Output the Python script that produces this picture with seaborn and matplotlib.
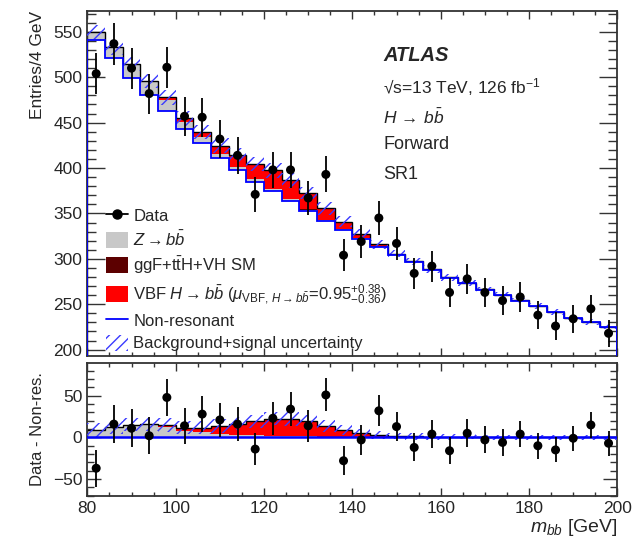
import numpy as np
import matplotlib
matplotlib.use('Agg')
import matplotlib.pyplot as plt
import seaborn as sns
from matplotlib.lines import Line2D
from matplotlib.patches import Patch
from matplotlib.ticker import MultipleLocator

sns.set_style('ticks')
plt.rcParams['font.family'] = ['Liberation Sans', 'DejaVu Sans']
plt.rcParams['mathtext.fontset'] = 'custom'
plt.rcParams['mathtext.rm'] = 'Liberation Sans'
plt.rcParams['mathtext.it'] = 'Liberation Sans:italic'
plt.rcParams['mathtext.bf'] = 'Liberation Sans:bold'
plt.rcParams['hatch.linewidth'] = 1.0

# binning: 30 bins of 4 GeV from 80 to 200
edges = np.arange(80, 201, 4)
centers = edges[:-1] + 2

# observed events per bin
data = [504, 537, 510, 482, 511, 457, 456, 432, 414, 371, 398, 398, 367, 393, 304,
        319, 345, 317, 284, 292, 263, 278, 263, 254, 258, 238, 226, 234, 245, 218]
# non-resonant background
nonres = [541, 521, 499, 480, 463, 443, 428, 411, 398, 385, 375, 364, 353, 342, 332,
          322, 313, 304, 296, 288, 279, 273, 266, 260, 254, 248, 241, 235, 230, 225]
# Z -> bb
zbb = [9, 12, 15, 14.5, 12, 8, 6, 4, 3, 2.5, 2, 1.5, 1.2, 1, 0.8,
       0.6, 0.5, 0.4, 0.4, 0.3, 0.3, 0.3, 0.2, 0.2, 0.2, 0.2, 0.2, 0.1, 0.1, 0.1]
# ggF + ttH + VH
ggf = [0, 0, 0, 0, 0.1, 0.1, 0.1, 0.2, 0.2, 0.2, 0.2, 0.2, 0.2, 0.1, 0.1,
       0.1, 0, 0, 0, 0, 0, 0, 0, 0, 0, 0, 0, 0, 0, 0]
# VBF H -> bb
vbf = [0, 0, 0.5, 1.3, 2.7, 3.6, 5.5, 9.5, 13.3, 16.7, 20.2, 20.6, 18, 12.4, 7.8,
       5, 2.8, 1.4, 1, 0.6, 0.4, 0.3, 0.3, 0.2, 0.2, 0.1, 0.1, 0.1, 0.1, 0.1]
# background+signal uncertainty
unc = [8, 8, 8, 8, 8, 8, 8, 8, 8, 8, 8, 8, 7, 7, 6,
       5, 5, 4, 4, 4, 4, 3, 3, 3, 3, 3, 3, 3, 3, 3]

data = np.array(data, float)
nonres = np.array(nonres, float)
zbb = np.array(zbb, float)
ggf = np.array(ggf, float)
vbf = np.array(vbf, float)
unc = np.array(unc, float)
err = np.sqrt(data)

GRAY = '#c8c8c8'
DRED = '#5c0000'
RED = '#ff0000'
BLUE = '#0000ff'
HBLUE = '#3a3aff'

fig = plt.figure(figsize=(6.33, 5.38), dpi=100)
ax1 = fig.add_axes([0.138, 0.3383, 0.8373, 0.6413])
ax2 = fig.add_axes([0.138, 0.0786, 0.8373, 0.2461])


def draw_panel(ax, base, pts):
    s1 = base + zbb
    s2 = s1 + ggf
    s3 = s2 + vbf
    ax.stairs(s1, edges, baseline=base, fill=True, color=GRAY, lw=0, zorder=1)
    ax.stairs(s2, edges, baseline=s1, fill=True, color=DRED, lw=0, zorder=1)
    ax.stairs(s3, edges, baseline=s2, fill=True, color=RED, lw=0, zorder=1)
    ax.stairs(s3, edges, color='black', lw=1.0, zorder=2)
    ax.stairs(s3 + unc, edges, baseline=s3 - unc, fill=True, facecolor='none',
              edgecolor=HBLUE, hatch='///', lw=0, zorder=3)
    ax.errorbar(centers, pts, yerr=err, fmt='none', ecolor='black', elinewidth=1.3,
                capsize=0, zorder=5)
    sns.scatterplot(x=centers, y=pts, color='black', s=42, edgecolor='none',
                    ax=ax, zorder=6, legend=False)


draw_panel(ax1, nonres, data)
ax1.stairs(nonres, edges, color=BLUE, lw=1.3, zorder=4)

draw_panel(ax2, np.zeros(30), data - nonres)
ax2.axhline(0, color=BLUE, lw=1.8, zorder=4)

for ax in (ax1, ax2):
    ax.set_xlim(80, 200)
    ax.xaxis.set_major_locator(MultipleLocator(20))
    ax.xaxis.set_minor_locator(MultipleLocator(5))
    ax.yaxis.set_major_locator(MultipleLocator(50))
    ax.yaxis.set_minor_locator(MultipleLocator(10))
    ax.tick_params(which='both', direction='in', top=True, right=True,
                   color='#333333', labelsize=12.5, width=1.0)
    ax.tick_params(axis='x', which='major', length=6)
    ax.tick_params(axis='x', which='minor', length=3)
    for sp in ax.spines.values():
        sp.set_linewidth(1.3)
        sp.set_color('#333333')

ax1.set_ylim(193, 573)
ax1.tick_params(axis='y', which='major', length=13)
ax1.tick_params(axis='y', which='minor', length=6.5)
ax1.tick_params(axis='x', labelbottom=False)
ax1.set_ylabel('Entries/4 GeV', fontsize=12.5, loc='top', labelpad=6)

ax2.set_ylim(-70, 89)
ax2.tick_params(axis='y', which='major', length=10)
ax2.tick_params(axis='y', which='minor', length=5)
ax2.set_ylabel('Data - Non-res.', fontsize=12, labelpad=6)
ax2.set_xlabel(r'$m_{bb}$ [GeV]', fontsize=14, loc='right', labelpad=1)

# ATLAS label block
tx = 0.558
ax1.text(tx, 0.872, 'ATLAS', transform=ax1.transAxes, fontsize=14.5,
         fontweight='bold', fontstyle='italic', va='center')
ax1.text(tx, 0.78, '\u221as=13 TeV, 126 fb$^{-1}$', transform=ax1.transAxes,
         fontsize=12.5, va='center')
ax1.text(tx, 0.693, r'$H\,\rightarrow\,b\bar{b}$', transform=ax1.transAxes,
         fontsize=12.5, va='center')
ax1.text(tx, 0.612, 'Forward', transform=ax1.transAxes, fontsize=13, va='center')
ax1.text(tx, 0.525, 'SR1', transform=ax1.transAxes, fontsize=13, va='center')

handles = [
    Line2D([], [], color='black', marker='o', markersize=6.5, lw=1.3),
    Patch(facecolor=GRAY, edgecolor='none'),
    Patch(facecolor=DRED, edgecolor='none'),
    Patch(facecolor=RED, edgecolor='none'),
    Line2D([], [], color=BLUE, lw=1.3),
    Patch(facecolor='none', edgecolor=HBLUE, hatch='///', lw=0),
]
labels = [
    'Data',
    r'$Z\rightarrow b\bar{b}$',
    r'ggF+t$\bar{\rm t}$H+VH SM',
    r'VBF $H\rightarrow b\bar{b}$ ($\mu_{{\rm VBF},\,H\rightarrow b\bar{b}}$=0.95$^{+0.38}_{-0.36}$)',
    'Non-resonant',
    'Background+signal uncertainty',
]
ax1.legend(handles, labels, loc='upper left', bbox_to_anchor=(0.035, 0.432),
           frameon=False, fontsize=12, handlelength=1.3, handleheight=1.1,
           handletextpad=0.35, labelspacing=0.36, borderpad=0, borderaxespad=0)

fig.savefig('out.png', dpi=100)
